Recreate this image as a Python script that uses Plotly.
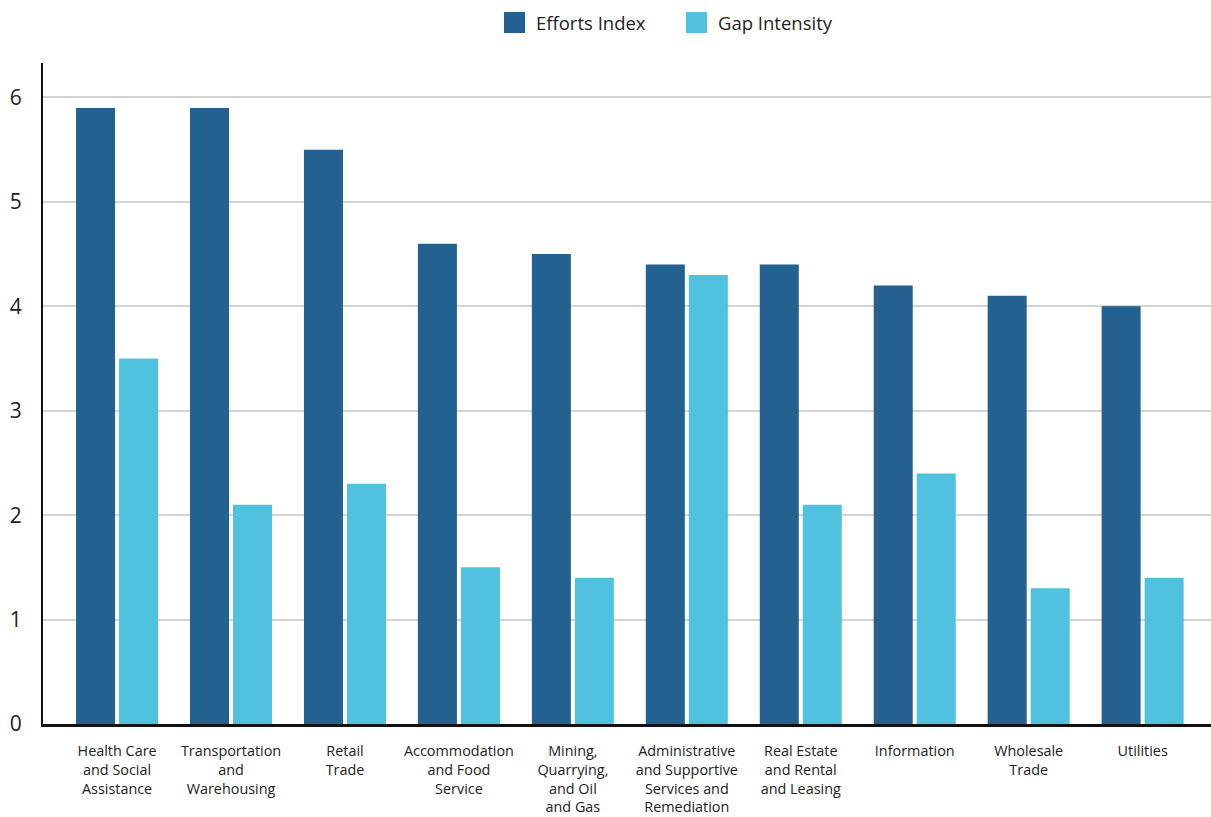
import plotly.graph_objects as go

categories = [
    "Health Care<br>and Social<br>Assistance",
    "Transportation<br>and<br>Warehousing",
    "Retail<br>Trade",
    "Accommodation<br>and Food<br>Service",
    "Mining,<br>Quarrying,<br>and Oil<br>and Gas",
    "Administrative<br>and Supportive<br>Services and<br>Remediation",
    "Real Estate<br>and Rental<br>and Leasing",
    "Information",
    "Wholesale<br>Trade",
    "Utilities",
]
efforts_index = [5.9, 5.9, 5.5, 4.6, 4.5, 4.4, 4.4, 4.2, 4.1, 4.0]
gap_intensity = [3.5, 2.1, 2.3, 1.5, 1.4, 4.3, 2.1, 2.4, 1.3, 1.4]
y_ticks = [0, 1, 2, 3, 4, 5, 6]
series_names = ["Efforts Index", "Gap Intensity"]
series_colors = ["#236190", "#50c2df"]

FONT = "Open Sans"
W, H = 1211, 817
ML, MR, MT, MB = 43, 0, 63, 93
PW, PH = W - ML - MR, H - MT - MB


def px_x(p):
    return (p - ML) / PW


def px_y(p):
    return (H - MB - p) / PH


fig = go.Figure()
for name, vals, col in zip(series_names, [efforts_index, gap_intensity], series_colors):
    fig.add_trace(go.Bar(name=name, x=categories, y=vals, showlegend=False,
                         marker=dict(color=col, line=dict(width=0))))

# custom legend (larger swatches, as in the reference)
legend_left = [504, 686]
shapes, annotations = [], []
for name, col, lx in zip(series_names, series_colors, legend_left):
    shapes.append(dict(type="rect", xref="paper", yref="paper",
                       x0=px_x(lx), x1=px_x(lx + 21), y0=px_y(33), y1=px_y(12),
                       fillcolor=col, line=dict(width=0), layer="above"))
    annotations.append(dict(xref="paper", yref="paper", x=px_x(lx + 30), y=px_y(22.5),
                            xanchor="left", yanchor="middle", showarrow=False,
                            text=name, font=dict(size=18.5, family=FONT, color="#222222")))

fig.update_layout(
    width=W, height=H,
    margin=dict(l=ML, r=MR, t=MT, b=MB, autoexpand=False),
    paper_bgcolor="white", plot_bgcolor="white",
    barmode="group", bargap=0.245, bargroupgap=0.093,
    font=dict(family=FONT, color="#222222"),
    showlegend=False,
    shapes=shapes, annotations=annotations,
)
fig.update_xaxes(
    type="category", range=[-0.65, 9.6], automargin=False,
    showline=True, linecolor="#111111", linewidth=3,
    tickfont=dict(size=14.4, family=FONT, color="#222222"),
    ticks="outside", ticklen=12, tickcolor="rgba(0,0,0,0)",
    showgrid=False,
)
fig.update_yaxes(
    range=[0, 6.33], tickvals=y_ticks, automargin=False,
    showline=True, linecolor="#111111", linewidth=2,
    gridcolor="#d3d3d3", gridwidth=2,
    zeroline=False,
    tickfont=dict(size=21, family=FONT, color="#222222"),
    ticks="outside", ticklen=15, tickcolor="rgba(0,0,0,0)",
)

fig.write_html("out.html", config={"displayModeBar": False},
               post_script="document.body.style.margin='0';")
